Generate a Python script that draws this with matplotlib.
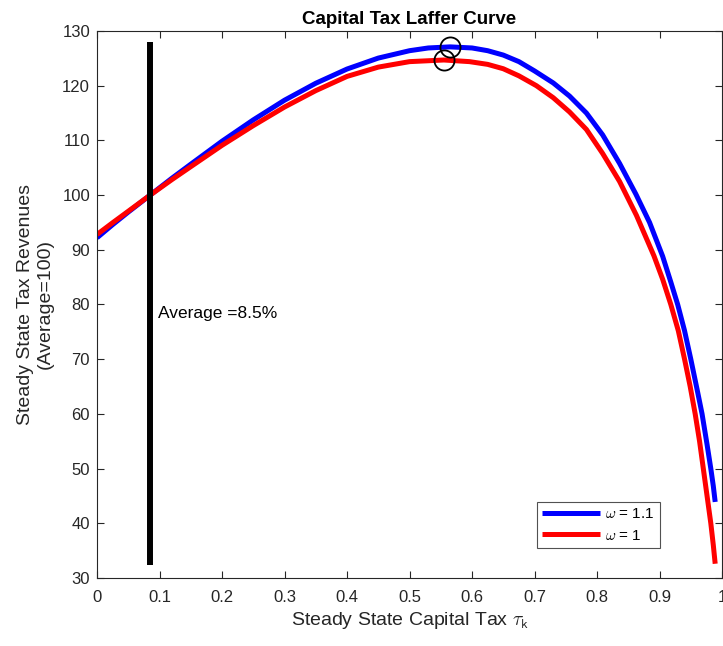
import matplotlib
matplotlib.use('Agg')
import matplotlib.pyplot as plt

plt.rcParams['font.family'] = ['Liberation Sans', 'DejaVu Sans']
plt.rcParams['mathtext.fontset'] = 'cm'

# omega = 1.1 (blue)
tax_hi = [0.0, 0.025, 0.05, 0.085, 0.12, 0.15, 0.2, 0.25, 0.3, 0.35, 0.4, 0.45, 0.5, 0.53, 0.565,
          0.6, 0.625, 0.65, 0.675, 0.7, 0.73, 0.756, 0.783, 0.809, 0.836, 0.862, 0.884, 0.905,
          0.918, 0.929, 0.94, 0.95, 0.96, 0.968, 0.976, 0.982, 0.986, 0.989]
rev_hi = [92.2, 94.6, 96.9, 100.0, 103.1, 105.65, 109.85, 113.75, 117.35, 120.45, 123.05, 125.05, 126.4,
          126.9, 127.1, 126.9, 126.4, 125.6, 124.4, 122.7, 120.5, 118.1, 115.0, 111.0, 105.8, 100.2,
          95.0, 88.8, 84.1, 80.0, 75.2, 70.0, 64.5, 60.0, 54.4, 50.0, 46.8, 43.9]

# omega = 1 (red)
tax_lo = [0.0, 0.025, 0.05, 0.085, 0.12, 0.15, 0.2, 0.25, 0.3, 0.35, 0.4, 0.45, 0.5, 0.555,
          0.596, 0.625, 0.65, 0.675, 0.703, 0.73, 0.756, 0.783, 0.809, 0.836, 0.863, 0.891, 0.905,
          0.918, 0.93, 0.94, 0.949, 0.957, 0.964, 0.97, 0.976, 0.982, 0.986, 0.989]
rev_lo = [92.8, 94.95, 97.05, 100.0, 102.85, 105.2, 109.1, 112.7, 116.1, 119.1, 121.7, 123.4, 124.4, 124.7,
          124.4, 123.9, 123.1, 121.8, 120.0, 117.8, 115.2, 112.0, 107.6, 102.5, 96.3, 88.9, 84.6,
          80.0, 75.2, 70.0, 65.0, 60.0, 55.0, 50.0, 45.0, 40.0, 36.0, 32.6]

peak_x = [0.565, 0.555]
peak_y = [127.1, 124.7]

avg_tax = 0.085
avg_span = [32.4, 127.9]

xticks = [0, 0.1, 0.2, 0.3, 0.4, 0.5, 0.6, 0.7, 0.8, 0.9, 1]
xticklabels = ['0', '0.1', '0.2', '0.3', '0.4', '0.5', '0.6', '0.7', '0.8', '0.9', '1']
yticks = [30, 40, 50, 60, 70, 80, 90, 100, 110, 120, 130]

fig = plt.figure(figsize=(7.23, 6.46), dpi=100)
ax = fig.add_axes([0.1342, 0.1053, 0.8645, 0.8467])

ax.plot(tax_hi, rev_hi, color='#0000ff', lw=3.6, label=r'$\omega$ = 1.1', solid_capstyle='butt')
ax.plot(tax_lo, rev_lo, color='#ff0000', lw=3.6, label=r'$\omega$ = 1', solid_capstyle='butt')
ax.plot(peak_x, peak_y, 'o', mfc='none', mec='black', ms=14.5, mew=1.3)
ax.vlines(avg_tax, avg_span[0], avg_span[1], color='black', lw=4.3)
ax.text(avg_tax + 0.0125, 78.4, 'Average =8.5%', fontsize=12.5, va='center', color='black')

ax.set_xlim(0, 1)
ax.set_ylim(30, 130)
ax.set_xticks(xticks)
ax.set_xticklabels(xticklabels)
ax.set_yticks(yticks)
ax.tick_params(direction='in', top=True, right=True, length=5, width=0.8,
               labelsize=12, colors='#262626')
ax.tick_params(axis='x', pad=9)
ax.tick_params(axis='y', pad=5)
for s in ax.spines.values():
    s.set_color('#262626')
    s.set_linewidth(0.8)

ax.set_title('Capital Tax Laffer Curve', fontsize=13.5, fontweight='bold', pad=5)
ax.set_xlabel(r'Steady State Capital Tax $\tau_{\mathsf{k}}$', fontsize=14, color='#262626', labelpad=3)
ax.set_ylabel('Steady State Tax Revenues\n(Average=100)', fontsize=14, color='#262626',
              labelpad=6, linespacing=1.2)

leg = ax.legend(loc='lower right', bbox_to_anchor=(0.9008, 0.0548), borderaxespad=0,
                fontsize=11, fancybox=False, edgecolor='#262626', handlelength=3.8,
                handletextpad=0.35, borderpad=0.35, labelspacing=0.5)
leg.get_frame().set_linewidth(0.8)

fig.savefig('out.png', dpi=100)
